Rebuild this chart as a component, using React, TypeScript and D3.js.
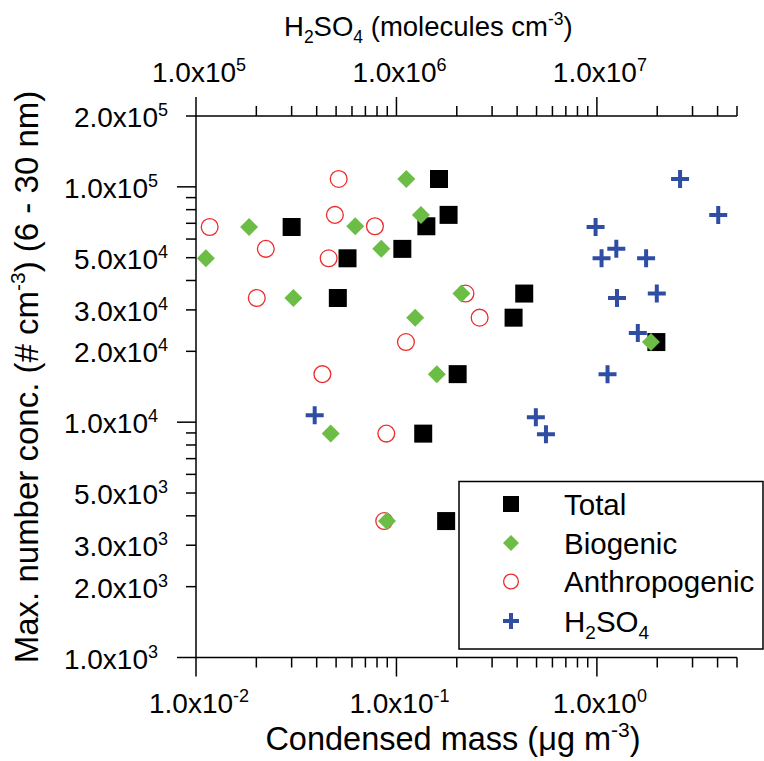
import React from "react";
import * as d3 from "d3";

// --- Data ---
// Condensed mass (ug m-3) and max number conc. (# cm-3)
const totalMass = [0.163, 0.182, 0.141, 0.030, 0.107, 0.057, 0.051, 0.202, 0.434, 0.384, 1.98, 0.136, 0.177];
const totalConc = [1.08e5, 7.6e4, 6.8e4, 6.75e4, 5.45e4, 4.97e4, 3.37e4, 1.6e4, 3.52e4, 2.78e4, 2.19e4, 8.94e3, 3.8e3];

const bioMass = [0.112, 0.0184, 0.1325, 0.0623, 0.0112, 0.084, 0.0306, 0.124, 0.159, 0.211, 1.86, 0.047, 0.0897];
const bioConc = [1.08e5, 6.75e4, 7.6e4, 6.8e4, 4.97e4, 5.45e4, 3.37e4, 2.78e4, 1.6e4, 3.52e4, 2.19e4, 8.94e3, 3.8e3];

const anthroMass = [0.0515, 0.0493, 0.0117, 0.0781, 0.0223, 0.0459, 0.0201, 0.1115, 0.0427, 0.221, 0.26, 0.089, 0.0869];
const anthroConc = [1.08e5, 7.6e4, 6.75e4, 6.8e4, 5.45e4, 4.97e4, 3.37e4, 2.19e4, 1.6e4, 3.52e4, 2.78e4, 8.94e3, 3.8e3];

// H2SO4 (molecules cm-3), plotted on the top axis
const h2so4Molec = [2.6e7, 4.03e7, 9.85e6, 1.25e7, 1.055e7, 1.76e7, 1.26e7, 1.99e7, 1.6e7, 1.13e7, 3.91e5, 4.96e6, 5.57e6];
const h2so4Conc = [1.08e5, 7.6e4, 6.75e4, 5.45e4, 4.97e4, 4.97e4, 3.37e4, 3.52e4, 2.39e4, 1.6e4, 1.07e4, 1.05e4, 8.88e3];

const bottomLabels = [1e-2, 1e-1, 1e0];
const topLabels = [1e5, 1e6, 1e7];
const leftLabels = [1e3, 2e3, 3e3, 5e3, 1e4, 2e4, 3e4, 5e4, 1e5, 2e5];

const legendItems = ["Total", "Biogenic", "Anthropogenic", "H2SO4"];

// --- Layout ---
const W = 764;
const H = 761;
const plot = { left: 196, right: 737, top: 116, bottom: 657.5 };
const FONT = "'Liberation Sans', Arial, Helvetica, sans-serif";
const FS = 28; // tick labels
const SUP = 18;
const TITLE = 33;
const TSUP = 21;

const GREEN = "#6cbd45";
const RED = "#ee2a2a";
const BLUE = "#2f4ea3";

const x = d3.scaleLog().domain([0.01, 5]).range([plot.left, plot.right]);
const xTop = d3.scaleLog().domain([1e5, 5e7]).range([plot.left, plot.right]);
const y = d3.scaleLog().domain([1e3, 2e5]).range([plot.bottom, plot.top]);

// all 1..9 x 10^n ticks inside a log domain
const logTicks = (lo: number, hi: number) => {
  const out: { v: number; major: boolean }[] = [];
  for (let e = Math.floor(Math.log10(lo)); e <= Math.ceil(Math.log10(hi)); e++) {
    for (let m = 1; m < 10; m++) {
      const v = m * Math.pow(10, e);
      if (v >= lo * 0.999 && v <= hi * 1.001) out.push({ v, major: m === 1 });
    }
  }
  return out;
};

const isMajor = (v: number) => Math.abs(Math.log10(v) - Math.round(Math.log10(v))) < 1e-6;

const SciLabel = ({ v, ...rest }: any) => {
  const e = Math.floor(Math.log10(v) + 1e-9);
  const m = v / Math.pow(10, e);
  return (
    <text {...rest} fontFamily={FONT} fontSize={FS} fill="#000">
      {m.toFixed(1)}x10<tspan dy={-11} fontSize={SUP}>{e}</tspan>
    </text>
  );
};

const MAJOR = 19;
const MINOR = 10;

const squarePath = (s: number) => `M${-s / 2},${-s / 2}h${s}v${s}h${-s}Z`;
const diamondPath = (s: number) => `M0,${-s / 2}L${s / 2},0L0,${s / 2}L${-s / 2},0Z`;
const crossPath = (s: number) => `M${-s / 2},0H${s / 2}M0,${-s / 2}V${s / 2}`;

const Marker = ({ kind, cx, cy, s }: { kind: string; cx: number; cy: number; s: number }) => {
  const t = `translate(${cx},${cy})`;
  if (kind === "Total") return <path transform={t} d={squarePath(s)} fill="#000" />;
  if (kind === "Biogenic") return <path transform={t} d={diamondPath(s)} fill={GREEN} />;
  if (kind === "Anthropogenic")
    return <circle cx={cx} cy={cy} r={s / 2 - 0.6} fill="none" stroke={RED} strokeWidth={1.3} />;
  return <path transform={t} d={crossPath(s)} stroke={BLUE} strokeWidth={4} fill="none" />;
};

export default function App() {
  const bottomTicks = logTicks(0.01, 5);
  const topTicks = logTicks(1e5, 5e7);
  const leftTicks = logTicks(1e3, 2e5);

  const legend = { x: 459, y: 481.5, w: 304, h: 167.5 };
  const rowY = [504, 543, 581.5, 621];
  const LFS = 29.5;

  return (
    <svg
      width={W}
      height={H}
      style={{ position: "absolute", left: 0, top: 0, background: "#fff" }}
    >
      {/* axes lines */}
      <g stroke="#000" strokeWidth={1.5} fill="none">
        <line x1={plot.left} x2={plot.right} y1={plot.bottom} y2={plot.bottom} />
        <line x1={plot.left} x2={plot.right} y1={plot.top} y2={plot.top} />
        <line x1={plot.left} x2={plot.left} y1={plot.top} y2={plot.bottom} />
        {bottomTicks.map((t, i) => (
          <line key={"b" + i} x1={x(t.v)} x2={x(t.v)} y1={plot.bottom} y2={plot.bottom + (t.major ? MAJOR : MINOR)} />
        ))}
        {topTicks.map((t, i) => (
          <line key={"t" + i} x1={xTop(t.v)} x2={xTop(t.v)} y1={plot.top} y2={plot.top - (t.major ? MAJOR : MINOR)} />
        ))}
        {leftTicks.map((t, i) => (
          <line key={"l" + i} x1={plot.left} x2={plot.left - (t.major ? MAJOR : MINOR)} y1={y(t.v)} y2={y(t.v)} />
        ))}
      </g>

      {/* tick labels */}
      {bottomLabels.map((v) => (
        <SciLabel key={"bl" + v} v={v} x={x(v) + 3} y={713} textAnchor="middle" />
      ))}
      {topLabels.map((v) => (
        <SciLabel key={"tl" + v} v={v} x={xTop(v) + 3} y={82} textAnchor="middle" />
      ))}
      {leftLabels.map((v) => (
        <SciLabel
          key={"ll" + v}
          v={v}
          x={isMajor(v) ? 158 : 168}
          y={y(v) + 11}
          textAnchor="end"
        />
      ))}

      {/* axis titles */}
      <text x={284} y={36} fontFamily={FONT} fontSize={27.5} fill="#000">
        H<tspan dy={7} fontSize={17.5}>2</tspan>
        <tspan dy={-7}>SO</tspan>
        <tspan dy={7} fontSize={17.5}>4</tspan>
        <tspan dy={-7}> (molecules cm</tspan>
        <tspan dy={-11} fontSize={17.5}>-3</tspan>
        <tspan dy={11}>)</tspan>
      </text>
      <text x={453} y={750} textAnchor="middle" fontFamily={FONT} fontSize={32.5} fill="#000">
        Condensed mass (μg m<tspan dy={-13} fontSize={TSUP}>-3</tspan>
        <tspan dy={13}>)</tspan>
      </text>
      <text
        transform={`translate(38,377) rotate(-90)`}
        textAnchor="middle"
        fontFamily={FONT}
        fontSize={TITLE}
        fill="#000"
      >
        Max. number conc. (# cm<tspan dy={-13} fontSize={TSUP}>-3</tspan>
        <tspan dy={13}>) (6 - 30 nm)</tspan>
      </text>

      {/* data */}
      <g>
        {anthroMass.map((m, i) => (
          <Marker key={"a" + i} kind="Anthropogenic" cx={x(m)} cy={y(anthroConc[i])} s={18} />
        ))}
        {totalMass.map((m, i) => (
          <Marker key={"s" + i} kind="Total" cx={x(m)} cy={y(totalConc[i])} s={18} />
        ))}
        {bioMass.map((m, i) => (
          <Marker key={"g" + i} kind="Biogenic" cx={x(m)} cy={y(bioConc[i])} s={18} />
        ))}
        {h2so4Molec.map((m, i) => (
          <Marker key={"h" + i} kind="H2SO4" cx={xTop(m)} cy={y(h2so4Conc[i])} s={18} />
        ))}
      </g>

      {/* legend */}
      <rect x={legend.x} y={legend.y} width={legend.w} height={legend.h} fill="#fff" stroke="#000" strokeWidth={1.5} />
      {legendItems.map((name, i) => (
        <g key={name}>
          <Marker kind={name} cx={511} cy={rowY[i]} s={16} />
          {name === "H2SO4" ? (
            <text x={564} y={rowY[i] + 10.5} fontFamily={FONT} fontSize={LFS} fill="#000">
              H<tspan dy={7} fontSize={19}>2</tspan>
              <tspan dy={-7}>SO</tspan>
              <tspan dy={7} fontSize={19}>4</tspan>
            </text>
          ) : (
            <text x={564} y={rowY[i] + 10.5} fontFamily={FONT} fontSize={LFS} fill="#000">
              {name}
            </text>
          )}
        </g>
      ))}
    </svg>
  );
}
